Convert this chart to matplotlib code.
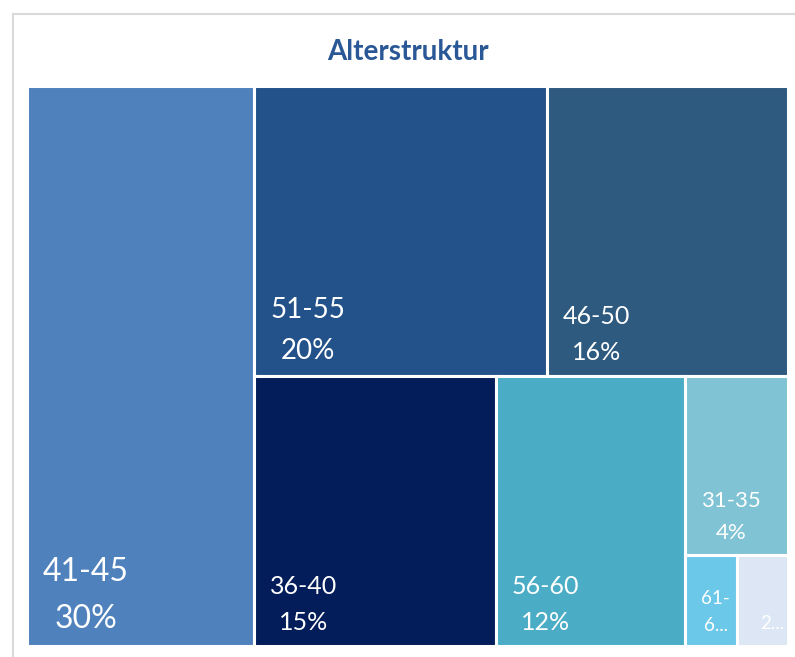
"""Treemap 'Alterstruktur' (age structure), Excel-style layout."""
import matplotlib
matplotlib.use("Agg")
import matplotlib.pyplot as plt
from matplotlib.patches import Rectangle
from matplotlib.lines import Line2D

# ----- data -----
ages = ["41-45", "51-55", "46-50", "36-40", "56-60", "31-35", "61-65", "26-30"]
shares = [29.8, 19.9, 16.4, 15.3, 12.0, 4.3, 1.1, 1.1]
# what Excel actually shows in the (too small) cells
shown = ["41-45", "51-55", "46-50", "36-40", "56-60", "31-35", "61-\n6...", "2..."]
colors = ["#4F81BD", "#23528A", "#2E5A7F", "#021D59", "#4BACC6",
          "#80C3D4", "#6CC8E9", "#DCE6F4"]
font_pt = [23, 20, 18, 18, 18, 16, 13.5, 13.5]
# Excel groups items into strips like this ("v" = column, "h" = row)
groups = [[0], [1, 2], [3], [4], [5], [6, 7]]
orient = ["v", "h", "v", "v", "h", "h"]

W, H = 761.0, 560.0   # plot area in px


def layout(values, groups, orient, x, y, w, h):
    """Strip layout: each group fills a column (left) or a row (top)."""
    rects = [None] * len(values)
    remaining = sum(values)
    for grp, o in zip(groups, orient):
        s = sum(values[i] for i in grp)
        if o == "v":
            sw = w * s / remaining
            yy = y + h
            for i in grp:
                ih = h * values[i] / s
                yy -= ih
                rects[i] = (x, yy, sw, ih)
            x += sw; w -= sw
        else:
            sh = h * s / remaining
            xx = x
            for i in grp:
                iw = w * values[i] / s
                rects[i] = (xx, y + h - sh, iw, sh)
                xx += iw
            h -= sh
        remaining -= s
    return rects


plt.rcParams["font.family"] = ["Lato", "DejaVu Sans"]
fig = plt.figure(figsize=(7.95, 6.57), dpi=100)
FW, FH = 795, 657

# chart frame (only top and left edges visible in the crop)
fig.add_artist(Line2D([13 / FW, 13 / FW], [0, 1 - 14 / FH], color="#D9D9D9", lw=1.5))
fig.add_artist(Line2D([13 / FW, 1], [1 - 14 / FH, 1 - 14 / FH], color="#D9D9D9", lw=1.5))

ax = fig.add_axes([27 / FW, 1 - 646 / FH, W / FW, H / FH])
ax.set_xlim(0, W); ax.set_ylim(0, H)
ax.axis("off")

rects = layout(shares, groups, orient, 0, 0, W, H)
for i, (rx, ry, rw, rh) in enumerate(rects):
    ax.add_patch(Rectangle((rx, ry), rw, rh, facecolor=colors[i],
                           edgecolor="white", lw=2.2))
    if "\n" in shown[i] or shown[i].endswith("..."):
        txt = shown[i]
    else:
        txt = f"{shown[i]}\n{shares[i]:.0f}%"
    if shown[i] == "2...":
        ax.text(rx + rw - 4, ry + 14, txt, ha="right", va="bottom",
                color="white", fontsize=font_pt[i])
    else:
        ax.text(rx + 16, ry + 12, txt, ha="left", va="bottom",
                multialignment="center", linespacing=1.7,
                color="white", fontsize=font_pt[i])

fig.text(408 / FW, 1 - 52 / FH, "Alterstruktur", ha="center", va="center",
         fontsize=20, fontweight="bold", color="#2A5795")

fig.savefig("out.png", dpi=100)
